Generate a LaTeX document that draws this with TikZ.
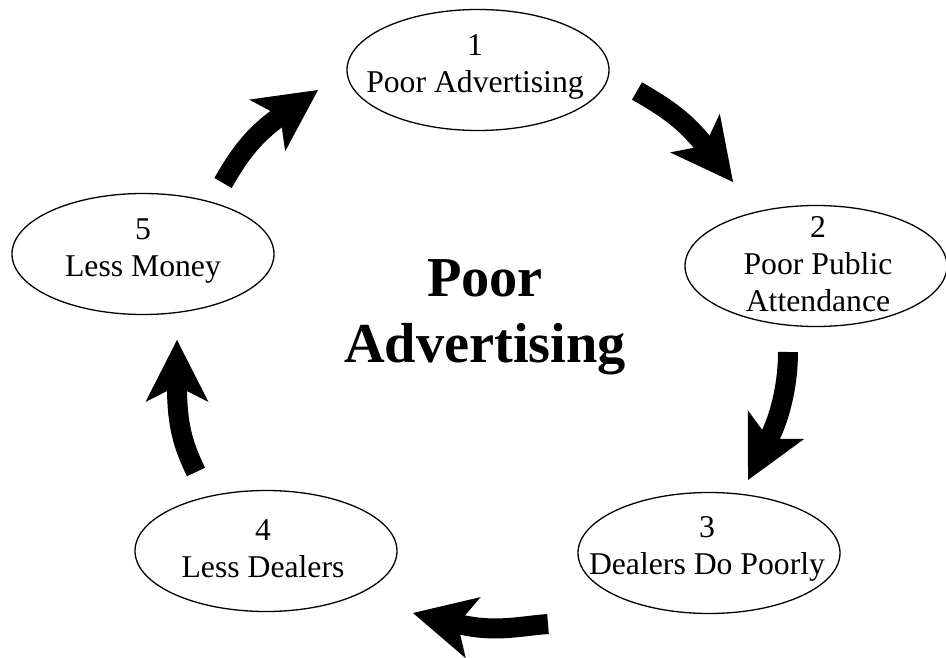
\documentclass[tikz,border=0pt]{standalone}
\usepackage{fontspec}
\setmainfont{Liberation Serif}
\usetikzlibrary{shapes.geometric,arrows.meta}
\begin{document}
\begin{tikzpicture}[x=1pt,y=-1pt,
  stage/.style={ellipse, draw, line width=1.3pt, inner sep=0pt,
                minimum width=262pt, minimum height=121pt},
  stagetext/.style={align=center, inner sep=0pt,
                    font=\fontsize{31.7}{37}\selectfont},
  flow/.style={line width=20pt,
               -{Stealth[length=62pt, width=63pt, inset=16pt, line width=0pt]}},
  heading/.style={align=center, inner sep=0pt,
                  font=\fontsize{56.4}{66}\selectfont\bfseries}]
\useasboundingbox (0,0) rectangle (946,658);

% the five stages of the cycle
\node[stage] (e1) at (478,70)  {};
\node[stage] (e2) at (816,266) {};
\node[stage] (e3) at (709,553) {};
\node[stage] (e4) at (266,551) {};
\node[stage] (e5) at (143,254) {};

\node[stagetext] (t1) at (475,67)  {1\\Poor Advertising};
\node[stagetext] (t2) at (818,264) {2\\Poor Public\\Attendance};
\node[stagetext] (t3) at (707,549) {3\\Dealers Do Poorly};
\node[stagetext] (t4) at (263,549) {4\\Less Dealers};
\node[stagetext] (t5) at (143,251) {5\\Less Money};

% central title
\node[heading] (title) at (485,317) {Poor\\Advertising};

% block arrows between the stages
\coordinate (a1s) at (637,91);  \coordinate (a1e) at (733,182);
\coordinate (a2s) at (788,352); \coordinate (a2e) at (748,480);
\coordinate (a3s) at (548,624); \coordinate (a3e) at (413,613);
\coordinate (a4s) at (196,472); \coordinate (a4e) at (177,340);
\coordinate (a5s) at (223,183); \coordinate (a5e) at (318,90);

\draw[flow] (a1s) .. controls (663,106) and (684,119) .. (a1e);
\draw[flow] (a2s) .. controls (788,380) and (782,413) .. (a2e);
\draw[flow] (a3s) .. controls (520,626) and (495,633) .. (a3e);
\draw[flow] (a4s) .. controls (183,445) and (177,425) .. (a4e);
\draw[flow] (a5s) .. controls (238,157) and (252,136) .. (a5e);
\end{tikzpicture}
\end{document}
